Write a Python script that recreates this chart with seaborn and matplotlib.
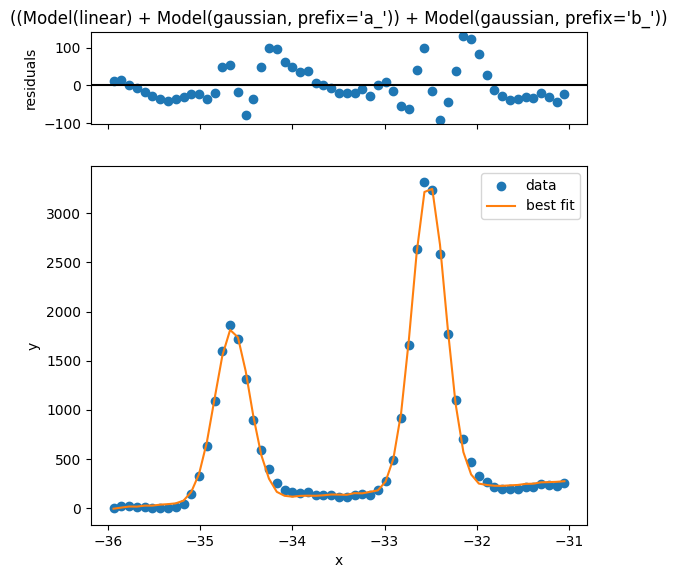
import matplotlib
matplotlib.use("Agg")
import matplotlib.pyplot as plt
import seaborn as sns
import numpy as np

# x positions (evenly spaced samples)
x = [-35.943, -35.859, -35.774, -35.690, -35.605, -35.521, -35.436, -35.352,
     -35.268, -35.183, -35.099, -35.014, -34.930, -34.846, -34.761, -34.677,
     -34.592, -34.508, -34.424, -34.339, -34.255, -34.170, -34.086, -34.001,
     -33.917, -33.833, -33.748, -33.664, -33.579, -33.495, -33.411, -33.326,
     -33.242, -33.157, -33.073, -32.989, -32.904, -32.820, -32.735, -32.651,
     -32.567, -32.482, -32.398, -32.313, -32.229, -32.144, -32.060, -31.976,
     -31.891, -31.807, -31.722, -31.638, -31.554, -31.469, -31.385, -31.300,
     -31.216, -31.132, -31.047]

# measured data
y = [7, 20, 20, 10, 10, 0, 0, 0, 14, 48, 143, 327, 633, 1092, 1602, 1867,
     1721, 1316, 895, 592, 398, 262, 190, 167, 160, 167, 133, 133, 133, 118,
     116, 133, 143, 139, 184, 279, 490, 915, 1660, 2640, 3313, 3231, 2588,
     1776, 1102, 701, 466, 333, 265, 217, 201, 194, 201, 217, 217, 245, 235,
     224, 252]

# residuals (data - best fit)
resid = [11, 13, 2, -7, -17, -27, -37, -42, -36, -30, -23, -23, -37, -21,
         49, 54, -17, -78, -36, 49, 98, 95, 63, 49, 34, 39, 6, 1, -7, -21,
         -21, -21, -9, -28, 2, 8, -15, -55, -63, 40, 98, -15, -91, -45, 38,
         130, 122, 82, 28, -12, -27, -39, -36, -31, -33, -19, -31, -45, -23]

title = "((Model(linear) + Model(gaussian, prefix='a_')) + Model(gaussian, prefix='b_'))"

x = np.array(x)
y = np.array(y, dtype=float)
resid = np.array(resid, dtype=float)
best_fit = y - resid

fig = plt.figure(figsize=(6.77, 5.78), dpi=100)
ax_res = fig.add_axes([0.1344, 0.7855, 0.7326, 0.1592])
ax = fig.add_axes([0.1344, 0.0917, 0.7326, 0.6211], sharex=ax_res)

# residuals panel
ax_res.axhline(0, color='k', lw=1.5)
sns.scatterplot(x=x, y=resid, ax=ax_res, color='tab:blue', s=36,
                linewidth=1, edgecolor='tab:blue')
ax_res.set_ylabel('residuals')
ax_res.set_title(title)
ax_res.tick_params(labelbottom=False)

# data and fit panel
sns.scatterplot(x=x, y=y, ax=ax, color='tab:blue', s=36, linewidth=1,
                edgecolor='tab:blue', label='data')
sns.lineplot(x=x, y=best_fit, ax=ax, color='tab:orange', lw=1.5, label='best fit')
ax.set_xlabel('x')
ax.set_ylabel('y')
ax.set_xticks([-36, -35, -34, -33, -32, -31])
ax.legend(loc='upper right')

fig.savefig('out.png', dpi=100)
